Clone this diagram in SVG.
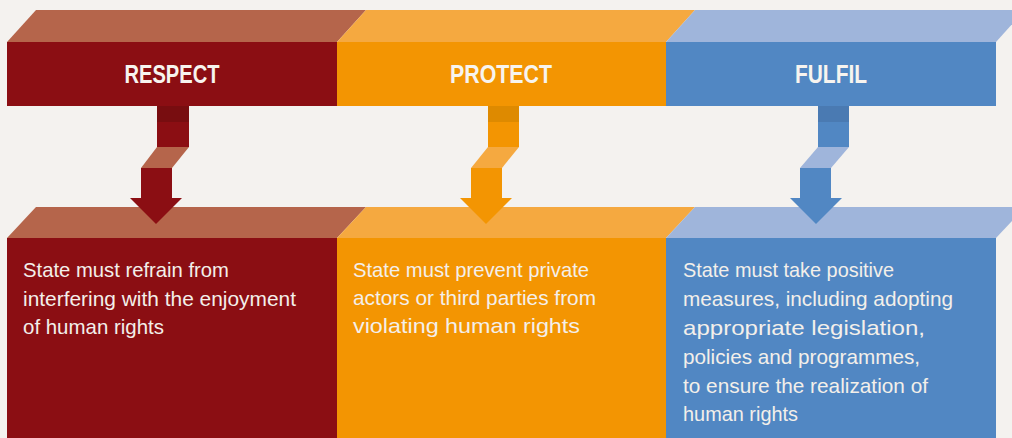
<svg xmlns="http://www.w3.org/2000/svg" width="1012" height="438" viewBox="0 0 1012 438">
  <style>
    .bg { fill: #F4F2EF; }
    .r-front { fill: #8B0E13; }
    .r-top { fill: #B5654B; }
    .r-dark { fill: #780D10; }
    .o-front { fill: #F39502; }
    .o-top { fill: #F5A940; }
    .o-dark { fill: #DE8A00; }
    .b-front { fill: #5187C3; }
    .b-top { fill: #9FB5DB; }
    .b-dark { fill: #4A7AB2; }
    .hdr { font-family: "Liberation Sans", Arial, sans-serif; font-weight: bold; font-size: 25px; fill: #F7F4EF; text-anchor: middle; }
    .body { font-family: "Liberation Sans", Arial, sans-serif; font-size: 21px; fill: #F3EFEA; }
  </style>
  <rect class="bg" x="0" y="0" width="1012" height="438"/>

  <g id="header-respect">
    <polygon class="r-top" points="7,42 36,10 366,10 337,42"/>
    <rect class="r-front" x="7" y="42" width="330" height="64"/>
    <text class="hdr" x="172" y="83" textLength="95" lengthAdjust="spacingAndGlyphs">RESPECT</text>
  </g>
  <g id="header-protect">
    <polygon class="o-top" points="337,42 366,10 695,10 666,42"/>
    <rect class="o-front" x="337" y="42" width="329" height="64"/>
    <text class="hdr" x="501" y="83" textLength="102" lengthAdjust="spacingAndGlyphs">PROTECT</text>
  </g>
  <g id="header-fulfil">
    <polygon class="b-top" points="666,42 695,10 1025,10 996,42"/>
    <rect class="b-front" x="666" y="42" width="330" height="64"/>
    <text class="hdr" x="831" y="83" textLength="72" lengthAdjust="spacingAndGlyphs">FULFIL</text>
  </g>

  <g id="box-respect">
    <polygon class="r-top" points="7,238 36,207 366,207 337,238"/>
    <rect class="r-front" x="7" y="238" width="330" height="200"/>
    <text class="body" x="23" y="277" textLength="206" lengthAdjust="spacingAndGlyphs">State must refrain from</text>
    <text class="body" x="23" y="306" textLength="273" lengthAdjust="spacingAndGlyphs">interfering with the enjoyment</text>
    <text class="body" x="23" y="334" textLength="141" lengthAdjust="spacingAndGlyphs">of human rights</text>
  </g>
  <g id="box-protect">
    <polygon class="o-top" points="337,238 366,207 695,207 666,238"/>
    <rect class="o-front" x="337" y="238" width="329" height="200"/>
    <text class="body" x="353" y="277" textLength="236" lengthAdjust="spacingAndGlyphs">State must prevent private</text>
    <text class="body" x="353" y="305" textLength="243" lengthAdjust="spacingAndGlyphs">actors or third parties from</text>
    <text class="body" x="353" y="333" textLength="227" lengthAdjust="spacingAndGlyphs">violating human rights</text>
  </g>
  <g id="box-fulfil">
    <polygon class="b-top" points="666,238 695,207 1025,207 996,238"/>
    <rect class="b-front" x="666" y="238" width="330" height="200"/>
    <text class="body" x="683" y="277" textLength="211" lengthAdjust="spacingAndGlyphs">State must take positive</text>
    <text class="body" x="683" y="306" textLength="270" lengthAdjust="spacingAndGlyphs">measures, including adopting</text>
    <text class="body" x="683" y="335" textLength="242" lengthAdjust="spacingAndGlyphs">appropriate legislation,</text>
    <text class="body" x="683" y="364" textLength="237" lengthAdjust="spacingAndGlyphs">policies and programmes,</text>
    <text class="body" x="683" y="393" textLength="245" lengthAdjust="spacingAndGlyphs">to ensure the realization of</text>
    <text class="body" x="683" y="421" textLength="115" lengthAdjust="spacingAndGlyphs">human rights</text>
  </g>

  <g id="connectors">
    <g id="arrow-respect">
      <rect class="r-dark" x="157" y="106" width="32" height="16"/>
      <rect class="r-front" x="157" y="122" width="32" height="25"/>
      <polygon class="r-top" points="157,147 189,147 172,168 141,168"/>
      <rect class="r-front" x="141" y="168" width="31" height="31"/>
      <polygon class="r-front" points="130,198 182,198 156,224"/>
    </g>
    <g id="arrow-protect">
      <rect class="o-dark" x="488" y="106" width="31" height="16"/>
      <rect class="o-front" x="488" y="122" width="31" height="25"/>
      <polygon class="o-top" points="488,147 519,147 502,168 471,168"/>
      <rect class="o-front" x="471" y="168" width="31" height="31"/>
      <polygon class="o-front" points="460,198 512,198 486,224"/>
    </g>
    <g id="arrow-fulfil">
      <rect class="b-dark" x="818" y="106" width="31" height="16"/>
      <rect class="b-front" x="818" y="122" width="31" height="25"/>
      <polygon class="b-top" points="818,147 849,147 831,168 800,168"/>
      <rect class="b-front" x="800" y="168" width="31" height="31"/>
      <polygon class="b-front" points="790,198 842,198 816,224"/>
    </g>
  </g>
</svg>
